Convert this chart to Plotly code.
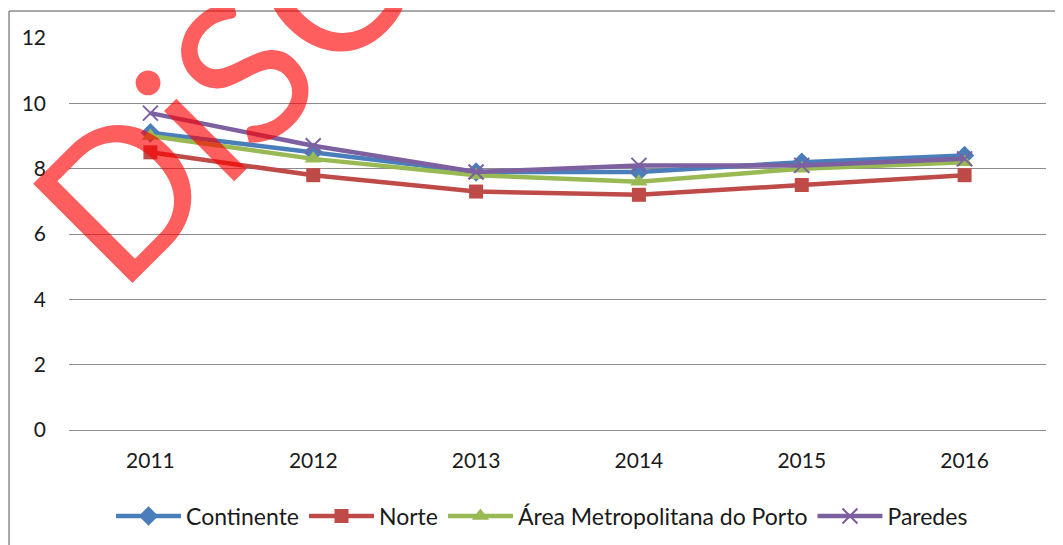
import plotly.graph_objects as go

years = ["2011", "2012", "2013", "2014", "2015", "2016"]
continente = [9.1, 8.5, 7.9, 7.9, 8.2, 8.4]
norte = [8.5, 7.8, 7.3, 7.2, 7.5, 7.8]
amp = [9.0, 8.3, 7.8, 7.6, 8.0, 8.2]
paredes = [9.7, 8.7, 7.9, 8.1, 8.1, 8.3]
y_ticks = [0, 2, 4, 6, 8, 10, 12]

series = [
    ("Continente", continente, "#4A7EBB", "diamond", 15),
    ("Norte", norte, "#BE4B48", "square", 14),
    ("Área Metropolitana do Porto", amp, "#98B954", "triangle-up", 15),
    ("Paredes", paredes, "#7D60A0", "x-thin", 15),
]

fig = go.Figure()
for name, vals, col, sym, sz in series:
    fig.add_trace(go.Scatter(
        x=years, y=vals, name=name, mode="lines+markers",
        line=dict(color=col, width=4.5),
        marker=dict(symbol=sym, size=sz, color=col,
                    line=dict(color=col, width=2 if sym == "x-thin" else 0)),
    ))

# page is offset by the default 8px body margin; work in screen pixels
OFF = 8
W, H = 1063 - OFF, 545 - OFF
PL, PR, PT, PB = 69, 1046, 38, 430  # plot area in screen pixels
L, R, T, B = PL - OFF, W - (PR - OFF), PT - OFF, H - (PB - OFF)
pw, ph = W - L - R, H - T - B


def px(x):
    return (x - OFF - L) / pw


def py(y):
    return (H - B - (y - OFF)) / ph


fig.update_layout(
    width=W, height=H,
    margin=dict(l=L, r=R, t=T, b=B, autoexpand=False),
    paper_bgcolor="white", plot_bgcolor="white",
    font=dict(family="Lato, Open Sans, sans-serif", size=21, color="#1a1a1a"),
    showlegend=True,
    legend=dict(orientation="h", x=px(542), xanchor="center", y=py(516), yanchor="middle",
                font=dict(size=23), itemwidth=65, tracegroupgap=0),
    xaxis=dict(range=[-0.5, 5.5], showgrid=False, showline=False, ticks="",
               tickfont=dict(size=21), ticklabelstandoff=16),
    yaxis=dict(range=[0, 12], tickvals=y_ticks, showgrid=True, gridcolor="#8C8C8C",
               gridwidth=1, zeroline=True, zerolinecolor="#8C8C8C", zerolinewidth=1,
               showline=False, ticks="", tickfont=dict(size=21), ticklabelstandoff=22),
)

# outer chart border (top and left)
fig.add_shape(type="line", xref="paper", yref="paper", x0=px(9), x1=px(1063), y0=py(11), y1=py(11),
              line=dict(color="#8C8C8C", width=1.5))
fig.add_shape(type="line", xref="paper", yref="paper", x0=px(9), x1=px(9), y0=py(11), y1=py(545),
              line=dict(color="#8C8C8C", width=1.5))

# watermark
fig.add_annotation(text="DiSC", xref="paper", yref="paper", x=px(218), y=py(90),
                   xanchor="center", yanchor="middle", showarrow=False, textangle=-45,
                   font=dict(family="Lato, sans-serif", size=196, color="rgba(255,0,0,0.63)"))

fig.write_html("out.html")
